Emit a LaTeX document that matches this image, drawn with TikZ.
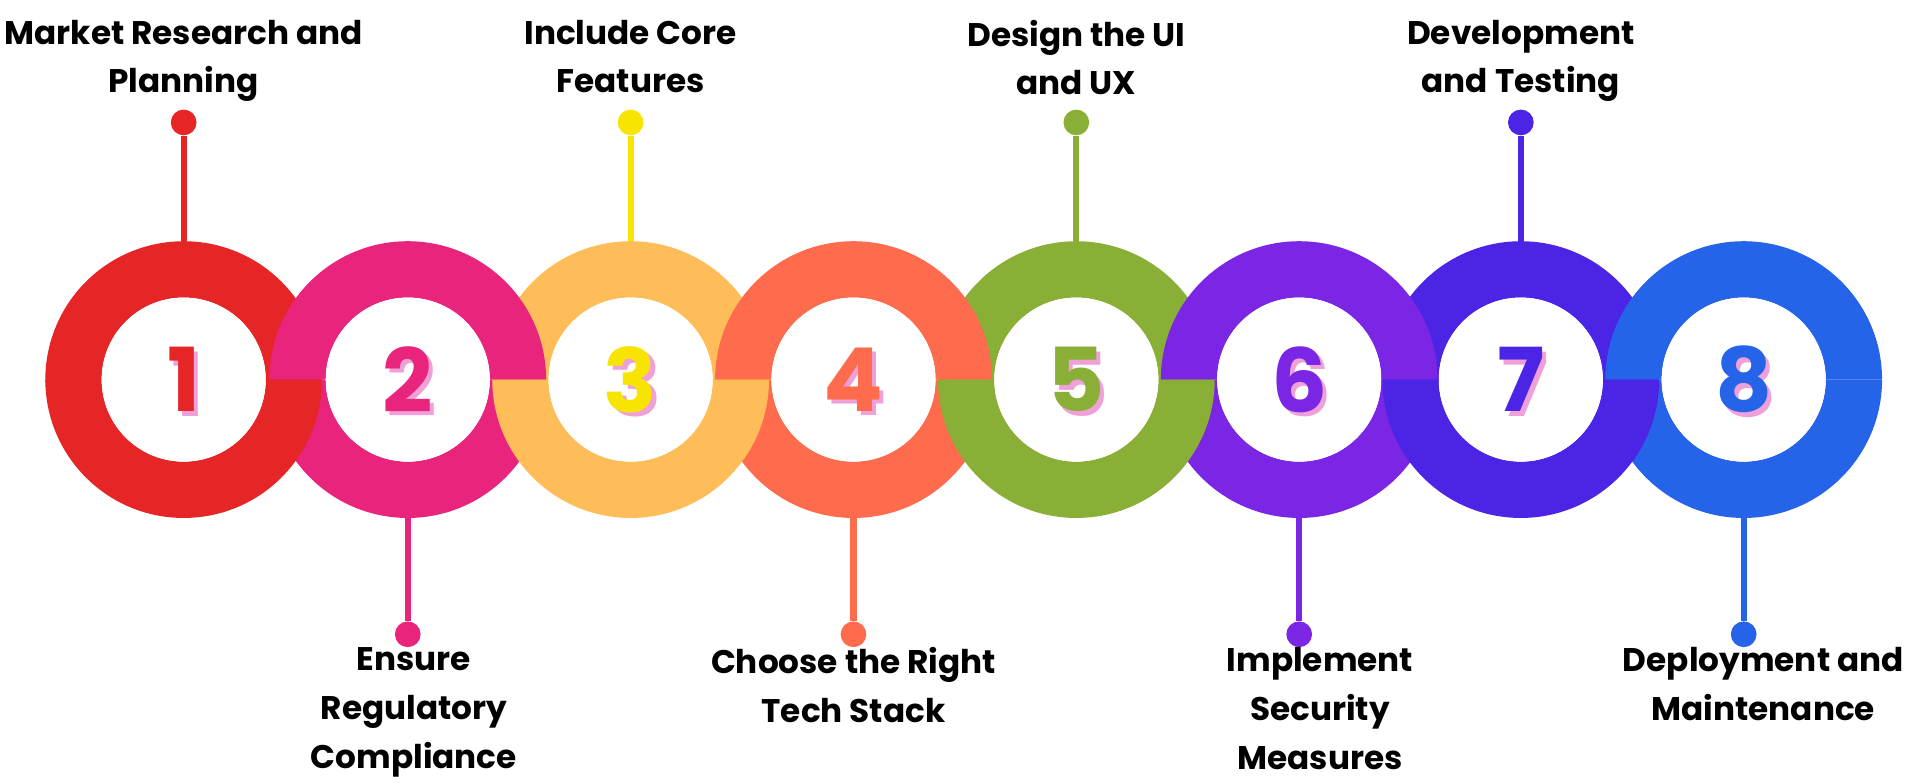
\documentclass[tikz,border=0pt]{standalone}
\usepackage{fontspec}
\setmainfont{Poppins}
\usetikzlibrary{calc}
\definecolor{cOne}{HTML}{E52526}
\definecolor{cTwo}{HTML}{E8247C}
\definecolor{cThree}{HTML}{FFBD59}
\definecolor{cThreeNum}{HTML}{F7E400}
\definecolor{cFour}{HTML}{FF6B4D}
\definecolor{cFive}{HTML}{8AAF36}
\definecolor{cSix}{HTML}{7B26E4}
\definecolor{cSeven}{HTML}{4C24E6}
\definecolor{cEight}{HTML}{2563E8}
\definecolor{shade}{HTML}{F0A0D8}
\tikzset{
  label/.style={font=\fontsize{15.2}{22.7}\selectfont\bfseries, align=center, text=black},
  num/.style={font=\fontsize{41}{41}\selectfont\bfseries},
  dot/.style={circle, inner sep=0pt, minimum size=0.42cm},
  stem/.style={line width=0.1cm}
}
\newcommand{\halfring}[4]{% centre x, colour, start angle, end angle
  \fill[#2] ($(#1,-6.2)+(#3:2.26)$) arc (#3:#4:2.26) -- ($(#1,-6.2)+(#4:1.34)$) arc (#4:#3:1.34) -- cycle;}
\begin{document}
\begin{tikzpicture}
\useasboundingbox (0,0) rectangle (31.36,-12.8);
% rings, chained
\foreach \x/\c in {3.0/cOne,10.3/cThree,17.58/cFive,24.84/cSeven} {\halfring{\x}{\c}{-1}{181}}
\foreach \x/\c in {6.66/cTwo,13.94/cFour,21.22/cSix,28.48/cEight} {\halfring{\x}{\c}{0}{180}}
\foreach \x/\c in {6.66/cTwo,13.94/cFour,21.22/cSix,28.48/cEight} {\halfring{\x}{\c}{180}{360}}
\foreach \x/\c in {3.0/cOne,10.3/cThree,17.58/cFive,24.84/cSeven} {\halfring{\x}{\c}{180}{360}}
% numbers
\foreach \i/\x/\c in {1/3.0/cOne,2/6.66/cTwo,3/10.3/cThreeNum,4/13.94/cFour,5/17.58/cFive,6/21.22/cSix,7/24.84/cSeven,8/28.48/cEight} {
  \fill[white] (\x,-6.2) circle (1.34);
  \node[num, text=shade] at (\x+0.07,-6.27) {\i};
  \node[num, text=\c] (n\i) at (\x,-6.2) {\i};
}
% top steps
\foreach \i/\x/\c/\t in {1/3.0/cOne/{Market Research and\\Planning},3/10.3/cThreeNum/{Include Core\\Features},5/17.58/cFive/{Design the UI\\and UX},7/24.84/cSeven/{Development\\and Testing}} {
  \coordinate (r\i) at (\x,-3.94);
  \node[dot, fill=\c] (d\i) at (\x,-2.0) {};
  \draw[stem, \c] (r\i) -- (d\i);
  \node[label, anchor=north] (t\i) at (\x,-0.2) {\t};
}
% bottom steps
\foreach \i/\x/\lx/\c/\t in {2/6.66/6.76/cTwo/{Ensure\\Regulatory\\Compliance},4/13.94/13.94/cFour/{Choose the Right\\Tech Stack},6/21.22/21.56/cSix/{Implement\\Security\\Measures},8/28.48/28.8/cEight/{Deployment and\\Maintenance}} {
  \coordinate (r\i) at (\x,-8.46);
  \node[dot, fill=\c] (d\i) at (\x,-10.36) {};
  \draw[stem, \c] (r\i) -- (d\i);
  \node[label, anchor=north] (t\i) at (\lx,-10.45) {\t};
}
\end{tikzpicture}
\end{document}
